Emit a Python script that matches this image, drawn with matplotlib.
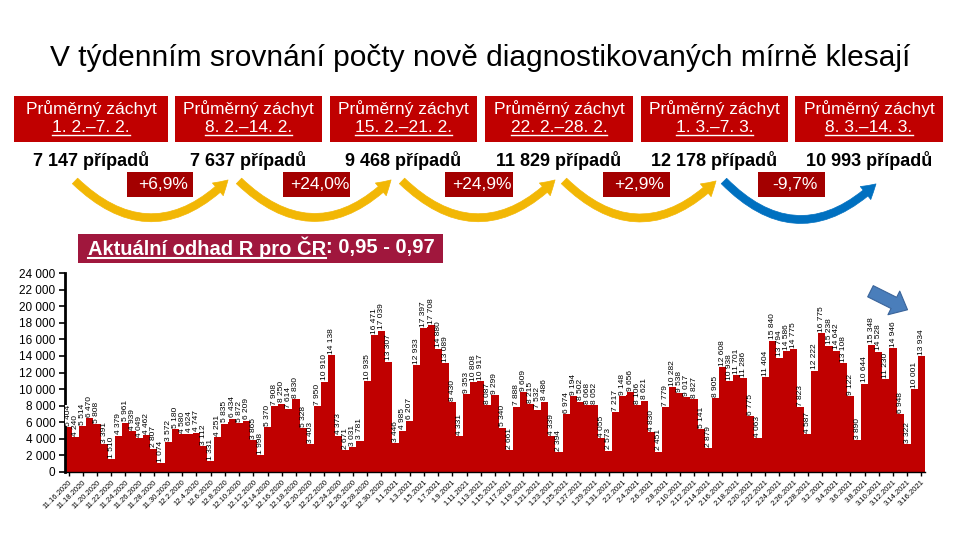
import matplotlib.pyplot as plt
import matplotlib.patches as patches
import matplotlib.lines as mlines
import numpy as np
import datetime as dt

plt.rcParams['font.family'] = ['Liberation Sans', 'DejaVu Sans']

# daily new cases 16.11.2020 - 16.3.2021
cases = [5404, 4240, 5514, 6470, 5808, 3391, 1510, 4379, 5961, 4939, 4049, 4462, 2807, 1074,
         3572, 5180, 4580, 4624, 4747, 3112, 1331, 4251, 5835, 6434, 5872, 6209, 3865, 1998,
         5370, 7908, 8250, 7614, 8830, 5328, 3403, 7950, 10910, 14138, 4373, 2671, 3031, 3781,
         10935, 16471, 17039, 13307, 3446, 4985, 6207, 12933, 17397, 17708, 14880, 13089, 8430, 4331,
         9353, 10808, 10917, 8087, 9299, 5340, 2661, 7888, 9609, 8215, 7532, 8486, 4339, 2394,
         6974, 9194, 8502, 8068, 8052, 4055, 2573, 7217, 9148, 9656, 8106, 8621, 4830, 2451,
         7779, 10282, 9538, 9017, 8827, 5141, 2879, 8905, 12608, 10938, 11701, 11286, 6775, 4063,
         11404, 15840, 13794, 14586, 14775, 7823, 4587, 12222, 16775, 15238, 14642, 13108, 9122, 3890,
         10644, 15348, 14528, 11230, 14946, 6948, 3322, 10001, 13934]
start = dt.date(2020, 11, 16)
dates = [start + dt.timedelta(days=i) for i in range(len(cases))]
date_labels = [f"{d.month}.{d.day}.{d.year}" for d in dates]

week_titles = ["1. 2.–7. 2.", "8. 2.–14. 2.", "15. 2.–21. 2.", "22. 2.–28. 2.", "1. 3.–7. 3.", "8. 3.–14. 3."]
week_avgs = ["7 147 případů", "7 637 případů", "9 468 případů", "11 829 případů", "12 178 případů", "10 993 případů"]
changes = ["+6,9%", "+24,0%", "+24,9%", "+2,9%", "-9,7%"]
r_label = "Aktuální odhad R pro ČR"
r_value = ": 0,95 - 0,97"

RED = "#C00000"
W, H = 960, 540


def fx(px):
    return px / W


def fy(py):
    return 1 - py / H


def sep(v):
    return f"{v:,}".replace(",", " ")


fig = plt.figure(figsize=(9.6, 5.4), dpi=100)

# main chart
ax = fig.add_axes([fx(65), fy(472), fx(925) - fx(65), fy(273) - fy(472)])
x = np.arange(len(cases))
ax.bar(x, cases, width=1.0, color=RED, edgecolor='none')
for xi, v in zip(x, cases):
    ax.text(xi, v + 150, sep(v), rotation=90, ha='center', va='bottom', fontsize=6,
            bbox=dict(fc='white', ec='none', pad=0.05))
ax.set_xlim(-0.5, len(cases) - 0.5)
ax.set_ylim(0, 24000)
ax.set_yticks(np.arange(0, 24001, 2000))
ax.set_yticklabels([sep(v) for v in range(0, 24001, 2000)], fontsize=8.5)
ax.set_xticks(x[::2])
ax.set_xticklabels(date_labels[::2], rotation=45, ha='right', va='top',
                   rotation_mode='anchor', fontsize=5.5)
ax.spines['top'].set_visible(False)
ax.spines['right'].set_visible(False)
ax.spines['left'].set_linewidth(2)
ax.spines['bottom'].set_linewidth(1)
ax.tick_params(axis='y', length=4, width=1.2, pad=3)
ax.tick_params(axis='x', length=3, width=1, pad=2)

# title
fig.text(fx(480), fy(58), "V týdenním srovnání počty nově diagnostikovaných mírně klesají",
         ha='center', va='center', fontsize=21.5)

# week boxes
box_x = [(14, 168), (175, 322), (330, 477), (485, 633), (641, 788), (795, 943)]
date_texts = []
for (x0, x1), t, a in zip(box_x, week_titles, week_avgs):
    fig.patches.append(patches.Rectangle((fx(x0), fy(142)), fx(x1) - fx(x0), fy(96) - fy(142),
                                         transform=fig.transFigure, fc=RED, ec='none'))
    cx = (x0 + x1) / 2
    fig.text(fx(cx), fy(109), "Průměrný záchyt", ha='center', va='center', color='white', fontsize=12.5)
    date_texts.append(fig.text(fx(cx), fy(128), t, ha='center', va='center', color='white', fontsize=12.5))
    fig.text(fx(cx), fy(160), a, ha='center', va='center', color='black', fontsize=13, fontweight='bold')

# curved arrows between weeks
arrows = [((73, 179), (230, 178)), ((237, 179), (393, 178)), ((400, 179), (557, 178)),
          ((562, 179), (718, 179)), ((722, 179), (878, 182))]
for k, (a, b) in enumerate(arrows):
    col = "#0070C0" if k == 4 else "#F2B705"
    arr = patches.FancyArrowPatch((fx(a[0]), fy(a[1])), (fx(b[0]), fy(b[1])),
                                  transform=fig.transFigure, connectionstyle="arc3,rad=0.5",
                                  arrowstyle="simple,head_width=12,head_length=10,tail_width=5.5",
                                  mutation_scale=1, fc=col, ec=col, lw=0.5)
    fig.patches.append(arr)

# change boxes
chg_x = [(127, 193), (283, 350), (445, 513), (603, 670), (758, 825)]
for (x0, x1), c in zip(chg_x, changes):
    fig.patches.append(patches.Rectangle((fx(x0), fy(197)), fx(x1) - fx(x0), fy(172) - fy(197),
                                         transform=fig.transFigure, fc="#A30000", ec='none'))
    fig.text(fx((x0 + x1) / 2 + 3), fy(184.5), c, ha='center', va='center', color='white', fontsize=12.5)

# R estimate box
fig.patches.append(patches.Rectangle((fx(78), fy(263)), fx(443) - fx(78), fy(234) - fy(263),
                                     transform=fig.transFigure, fc="#A0173D", ec='none'))
r1 = fig.text(fx(88), fy(248), r_label, ha='left', va='center', color='white',
              fontsize=14.5, fontweight='bold')

# blue block arrow
fig.patches.append(patches.FancyArrowPatch((fx(868), fy(290)), (fx(910), fy(311)),
                                           transform=fig.transFigure,
                                           arrowstyle="simple,head_width=19,head_length=11,tail_width=9",
                                           mutation_scale=1, fc="#4A7EBB", ec="#3A649A", lw=0.8))

# underlines and rest of R text
fig.canvas.draw()
r = fig.canvas.get_renderer()
bb = r1.get_window_extent(r)
fig.text(bb.x1 / W, fy(248), r_value, ha='left', va='center', color='white', fontsize=14.5, fontweight='bold')
fig.lines.append(mlines.Line2D([bb.x0 / W, bb.x1 / W], [(bb.y0 + 1) / H] * 2,
                               transform=fig.transFigure, color='white', lw=1.5))
for t in date_texts:
    b = t.get_window_extent(r)
    fig.lines.append(mlines.Line2D([b.x0 / W, b.x1 / W], [(b.y0 + 0.5) / H] * 2,
                                   transform=fig.transFigure, color='white', lw=1))

fig.savefig("out.png", dpi=100, facecolor='white')
